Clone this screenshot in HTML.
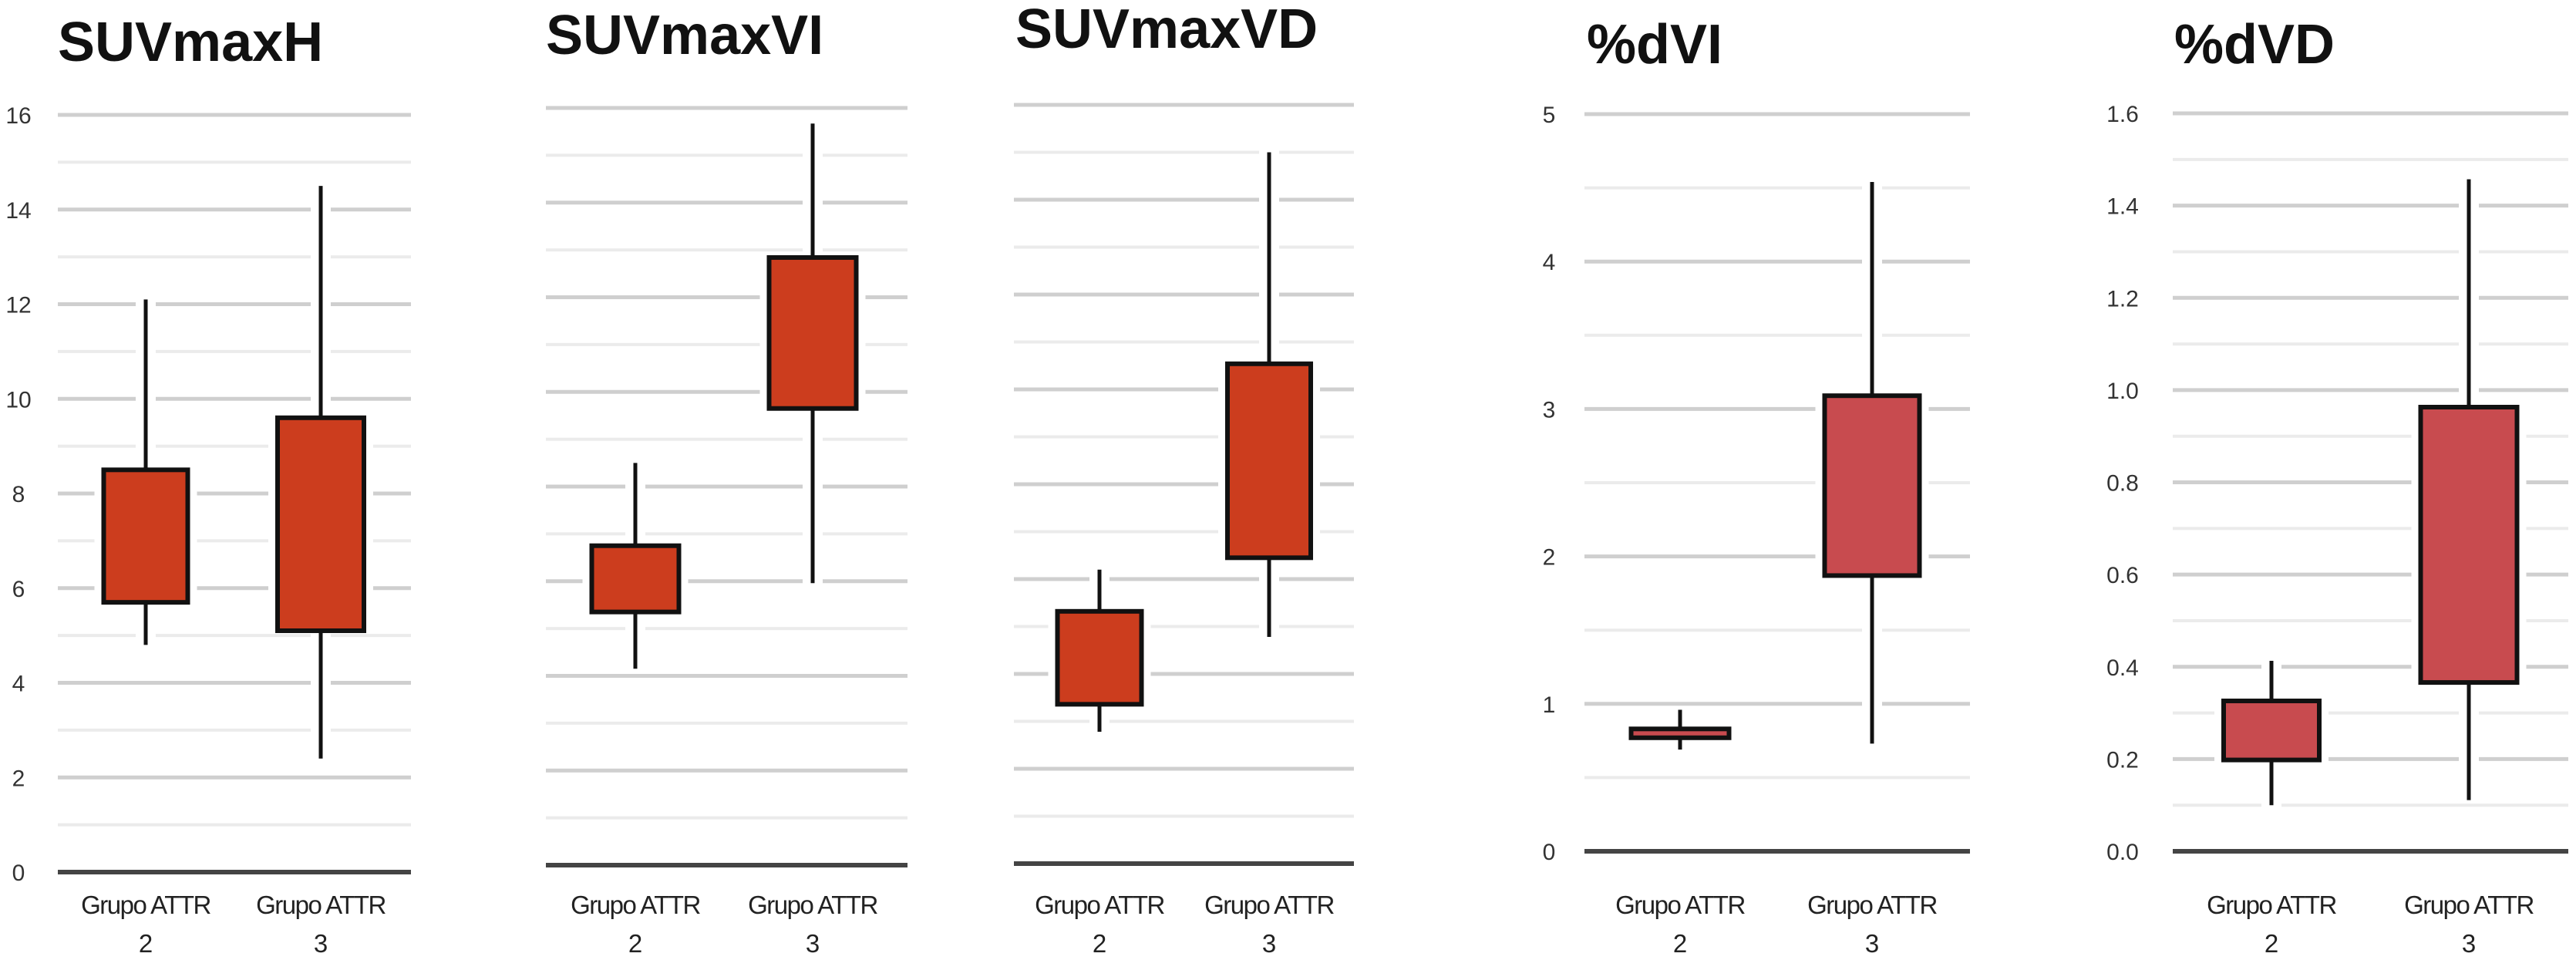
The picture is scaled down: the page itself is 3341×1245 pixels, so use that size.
<!DOCTYPE html>
<html><head><meta charset="utf-8">
<style>
html,body{margin:0;padding:0;background:#fff;}
svg{display:block;font-family:"Liberation Sans",Arial,sans-serif;}
</style></head>
<body>
<svg id="chart" width="3341" height="1245" viewBox="0 0 3341 1245" xmlns="http://www.w3.org/2000/svg"></svg>
<script>
const categories = ["Grupo ATTR|2", "Grupo ATTR|3"];
const titles = ["SUVmaxH", "SUVmaxVI", "SUVmaxVD", "%dVI", "%dVD"];
const suvH_min = [4.8, 2.4];
const suvH_q1 = [5.7, 5.1];
const suvH_q3 = [8.5, 9.6];
const suvH_max = [12.1, 14.5];
const suvVI_min = [4.15, 5.96];
const suvVI_q1 = [5.35, 9.65];
const suvVI_q3 = [6.75, 12.84];
const suvVI_max = [8.5, 15.67];
const suvVD_min = [2.78, 4.78];
const suvVD_q1 = [3.36, 6.45];
const suvVD_q3 = [5.32, 10.54];
const suvVD_max = [6.2, 15.0];
const dVI_min = [0.69, 0.73];
const dVI_q1 = [0.77, 1.87];
const dVI_q3 = [0.83, 3.09];
const dVI_max = [0.96, 4.54];
const dVD_min = [0.10, 0.111];
const dVD_q1 = [0.198, 0.366];
const dVD_q3 = [0.326, 0.963];
const dVD_max = [0.413, 1.457];
const ticksH = ["0","2","4","6","8","10","12","14","16"];
const ticksdVI = ["0","1","2","3","4","5"];
const ticksdVD = ["0.0","0.2","0.4","0.6","0.8","1.0","1.2","1.4","1.6"];

const NS = "http://www.w3.org/2000/svg";
const svg = document.getElementById('chart');
function mk(tag, attrs, parent){
  const e = document.createElementNS(NS, tag);
  for (const k in attrs) e.setAttribute(k, attrs[k]);
  (parent||svg).appendChild(e);
  return e;
}
// layout (not data)
const panels = [
  {x0:75,x1:533,yTop:149,yBot:1131,vmax:16,minor:1,major:2,cx:[189,416],bw:[109,112],ticks:ticksH,tickX:24,titleX:75,titleY:79,fill:"#cc3d1e",min:suvH_min,q1:suvH_q1,q3:suvH_q3,max:suvH_max},
  {x0:708,x1:1177,yTop:140,yBot:1122,vmax:16,minor:1,major:2,cx:[824,1054],bw:[113,113],ticks:null,titleX:708,titleY:70,fill:"#cc3d1e",min:suvVI_min,q1:suvVI_q1,q3:suvVI_q3,max:suvVI_max},
  {x0:1315,x1:1756,yTop:136,yBot:1120,vmax:16,minor:1,major:2,cx:[1426,1646],bw:[109,108],ticks:null,titleX:1317,titleY:62,fill:"#cc3d1e",min:suvVD_min,q1:suvVD_q1,q3:suvVD_q3,max:suvVD_max},
  {x0:2055,x1:2555,yTop:148,yBot:1104,vmax:5,minor:0.5,major:1,cx:[2179,2428],bw:[127,123],ticks:ticksdVI,tickX:2009,titleX:2058,titleY:82,fill:"#c84b4f",min:dVI_min,q1:dVI_q1,q3:dVI_q3,max:dVI_max},
  {x0:2818,x1:3331,yTop:147,yBot:1104,vmax:1.6,minor:0.1,major:0.2,cx:[2946,3202],bw:[124,125],ticks:ticksdVD,tickX:2753,titleX:2820,titleY:82,fill:"#c84b4f",min:dVD_min,q1:dVD_q1,q3:dVD_q3,max:dVD_max}
];

panels.forEach((p, pi) => {
  const g = mk('g', {});
  
  
  const y = v => p.yBot - (v / p.vmax) * (p.yBot - p.yTop);
  const t = mk('text', {x:p.titleX, y:p.titleY, 'font-size':72, 'font-weight':'bold', fill:'#111'}, g);
  t.textContent = titles[pi];
  
  
  const n = Math.round(p.vmax / p.minor);
  for (let i = n; i >= 1; i--) {
    const v = i * p.minor;
    const isMajor = Math.abs((v / p.major) - Math.round(v / p.major)) < 1e-6;
    const gl = mk('line', {x1:p.x0, x2:p.x1, y1:y(v), y2:y(v), stroke:isMajor?'#cfcfcf':'#ebebeb', 'stroke-width':isMajor?5:4}, g);
    
    
  }
  const ax = mk('line', {x1:p.x0, x2:p.x1, y1:p.yBot, y2:p.yBot, stroke:'#444', 'stroke-width':6}, g);
  
  
  if (p.ticks) {
    p.ticks.forEach((lab, i) => {
      const v = i * p.major;
      const tk = mk('text', {x:p.tickX, y:y(v) + 11, 'font-size':30, 'text-anchor':'middle', fill:'#333'}, g);
      tk.textContent = lab;
      
      
    });
  }
  categories.forEach((c, i) => {
    const cx = p.cx[i], bw = p.bw[i];
    const yMax = y(p.max[i]), yMin = y(p.min[i]), yQ3 = y(p.q3[i]), yQ1 = y(p.q1[i]);
    mk('line', {x1:cx, x2:cx, y1:yMax - 4, y2:yMin + 4, stroke:'#fff', 'stroke-width':26}, g);
    mk('rect', {x:cx - bw/2 - 12, y:yQ3 - 4, width:bw + 24, height:yQ1 - yQ3 + 8, fill:'#fff'}, g);
    const wk = mk('line', {x1:cx, x2:cx, y1:yMax, y2:yMin, stroke:'#111', 'stroke-width':5}, g);
    
    
    const bx = mk('rect', {x:cx - bw/2, y:yQ3, width:bw, height:Math.max(yQ1 - yQ3, 1), fill:p.fill, stroke:'#111', 'stroke-width':6}, g);
    
    
    const parts = c.split('|');
    const l1 = mk('text', {x:cx, y:1185, 'font-size':33, 'text-anchor':'middle', fill:'#222', 'letter-spacing':'-1.5'}, g);
    l1.textContent = parts[0];
    
    
    const l2 = mk('text', {x:cx, y:1235, 'font-size':33, 'text-anchor':'middle', fill:'#222'}, g);
    l2.textContent = parts[1];
    
    
  });
});
</script>
</body></html>
